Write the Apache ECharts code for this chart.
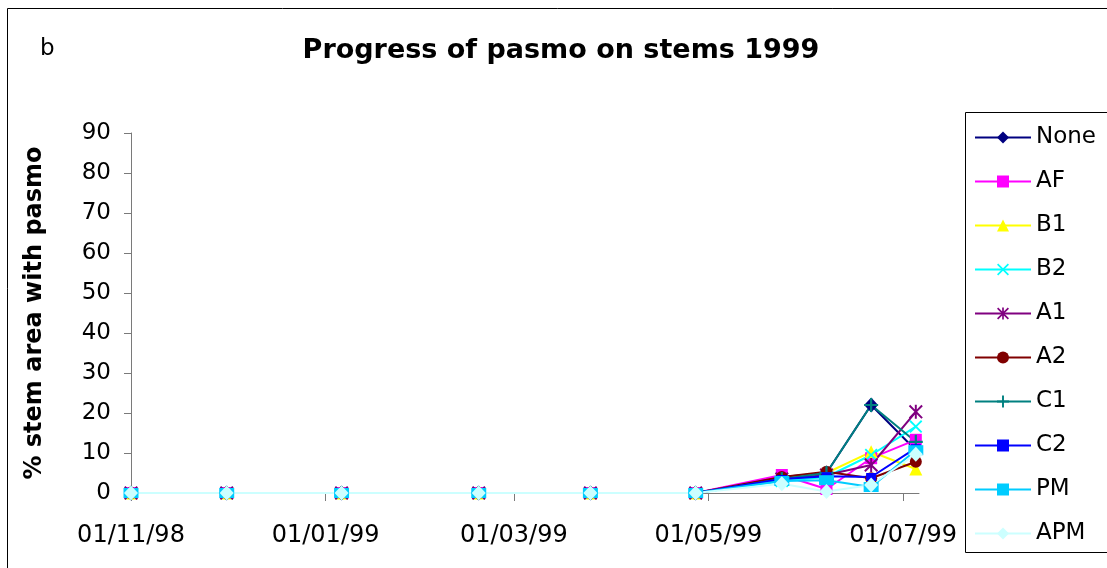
<!DOCTYPE html>
<html>
<head>
<meta charset="utf-8">
<title>Progress of pasmo on stems 1999</title>
<script src="https://cdn.jsdelivr.net/npm/echarts@6/dist/echarts.min.js"></script>
<style>
  html, body { margin: 0; padding: 0; background: #fff; }
  #chart { width: 1107px; height: 568px; }
</style>
</head>
<body>
<div id="chart"></div>
<script>
// Assessment dates and % stem area with pasmo for each treatment
const sampleDates = ['1998-11-01', '1998-12-01', '1999-01-06', '1999-02-18', '1999-03-25',
                     '1999-04-27', '1999-05-24', '1999-06-07', '1999-06-21', '1999-07-05'];
const tickDates = ['1998-11-01', '1999-01-01', '1999-03-01', '1999-05-01', '1999-07-01'];
const axisEnd = '1999-07-06';
const treatments = ['None', 'AF', 'B1', 'B2', 'A1', 'A2', 'C1', 'C2', 'PM', 'APM'];

const valNone = [0, 0, 0, 0, 0, 0, 4.0, 5.0, 22.0, 10.7];
const valAF   = [0, 0, 0, 0, 0, 0, 4.5, 1.0, 8.7, 13.3];
const valB1   = [0, 0, 0, 0, 0, 0, 3.5, 5.0, 10.3, 6.0];
const valB2   = [0, 0, 0, 0, 0, 0, 3.0, 4.0, 9.5, 16.6];
const valA1   = [0, 0, 0, 0, 0, 0, 3.5, 4.5, 7.0, 20.3];
const valA2   = [0, 0, 0, 0, 0, 0, 4.0, 5.3, 3.7, 7.8];
const valC1   = [0, 0, 0, 0, 0, 0, 3.5, 5.0, 22.0, 12.8];
const valC2   = [0, 0, 0, 0, 0, 0, 3.5, 4.2, 4.0, 11.2];
const valPM   = [0, 0, 0, 0, 0, 0, 3.0, 3.2, 1.5, 10.7];
const valAPM  = [0, 0, 0, 0, 0, 0, 2.3, 0.4, 2.0, 9.7];

const yTicks = { min: 0, max: 90, step: 10 };

// Filled marker outlines for the cross-style symbols
const SYM_X = 'path://M0,1L1,0L5,4L9,0L10,1L6,5L10,9L9,10L5,6L1,10L0,9L4,5Z';
const SYM_PLUS = 'path://M4.2,0H5.8V4.2H10V5.8H5.8V10H4.2V5.8H0V4.2H4.2Z';
const SYM_STAR = 'path://M4.3,0H5.7V10H4.3Z M0,1L1,0L5,4L9,0L10,1L6,5L10,9L9,10L5,6L1,10L0,9L4,5Z';

const seriesStyle = {
  None: { color: '#000080', symbol: 'diamond', size: [14, 15] },
  AF:   { color: '#FF00FF', symbol: 'rect', size: 12 },
  B1:   { color: '#FFFF00', symbol: 'triangle', size: 13 },
  B2:   { color: '#00FFFF', symbol: SYM_X, size: 13 },
  A1:   { color: '#800080', symbol: SYM_STAR, size: 14 },
  A2:   { color: '#800000', symbol: 'circle', size: 12 },
  C1:   { color: '#008080', symbol: SYM_PLUS, size: 14 },
  C2:   { color: '#0000FF', symbol: 'rect', size: [10, 8] },
  PM:   { color: '#00CCFF', symbol: 'rect', size: [15, 10] },
  APM:  { color: '#CCFFFF', symbol: 'diamond', size: [14, 15] }
};
const seriesValues = {
  None: valNone, AF: valAF, B1: valB1, B2: valB2, A1: valA1,
  A2: valA2, C1: valC1, C2: valC2, PM: valPM, APM: valAPM
};

function toTime(s) {
  const p = s.split('-').map(Number);
  return new Date(p[0], p[1] - 1, p[2]).getTime();
}
function pad(n) { return (n < 10 ? '0' : '') + n; }
function fmtDate(v) {
  const d = new Date(v);
  return pad(d.getDate()) + '/' + pad(d.getMonth() + 1) + '/' + String(d.getFullYear()).slice(2);
}

const FONT = 'DejaVu Sans';
const AXIS_GREY = '#7a7a7a';
const tickTimes = tickDates.map(toTime);

const series = treatments.map(name => {
  const st = seriesStyle[name];
  return {
    name: name,
    type: 'line',
    data: sampleDates.map((d, i) => [toTime(d), seriesValues[name][i]]),
    symbol: st.symbol,
    symbolSize: st.size,
    showAllSymbol: true,
    lineStyle: { color: st.color, width: 2 },
    itemStyle: { color: st.color, borderWidth: 0 },
    emphasis: { disabled: true }
  };
});

const chart = echarts.init(document.getElementById('chart'), null, { renderer: 'canvas' });
chart.setOption({
  animation: false,
  backgroundColor: '#ffffff',
  title: {
    text: 'Progress of pasmo on stems 1999',
    left: 561,
    top: 51,
    textAlign: 'center',
    textVerticalAlign: 'middle',
    padding: 0,
    textStyle: { fontFamily: FONT, fontWeight: 'bold', fontSize: 27, color: '#000' }
  },
  graphic: [
    {
      type: 'rect',
      shape: { x: 7.5, y: 8.5, width: 1200, height: 620 },
      style: { fill: 'none', stroke: '#000', lineWidth: 1 },
      silent: true
    },
    {
      type: 'rect',
      shape: { x: 965.5, y: 112.5, width: 200, height: 440 },
      style: { fill: 'none', stroke: '#000', lineWidth: 1 },
      silent: true
    },
    {
      type: 'text',
      x: 40,
      y: 49,
      style: {
        text: 'b', fontFamily: FONT, fontSize: 23, fill: '#000',
        textAlign: 'left', textVerticalAlign: 'middle'
      },
      silent: true
    }
  ],
  legend: {
    data: treatments,
    orient: 'vertical',
    left: 974,
    top: 126,
    padding: 0,
    itemWidth: 56,
    itemHeight: 15,
    itemGap: 21,
    selectedMode: false,
    textStyle: { fontFamily: FONT, fontSize: 23, lineHeight: 23, color: '#000' }
  },
  grid: { left: 131, top: 133, right: 188, bottom: 75, containLabel: false },
  xAxis: {
    type: 'value',
    min: toTime(sampleDates[0]),
    max: toTime(axisEnd),
    splitLine: { show: false },
    axisLine: { show: true, onZero: false, lineStyle: { color: AXIS_GREY, width: 1 } },
    axisTick: {
      show: true, inside: false, length: 8,
      customValues: tickTimes,
      lineStyle: { color: AXIS_GREY, width: 1 }
    },
    axisLabel: {
      customValues: tickTimes,
      formatter: fmtDate,
      margin: 31,
      fontFamily: FONT, fontSize: 24, color: '#000'
    }
  },
  yAxis: {
    type: 'value',
    min: yTicks.min,
    max: yTicks.max,
    interval: yTicks.step,
    name: '% stem area with pasmo',
    nameLocation: 'middle',
    nameRotate: 90,
    nameGap: 84,
    nameTextStyle: { fontFamily: FONT, fontWeight: 'bold', fontSize: 24, color: '#000' },
    splitLine: { show: false },
    axisLine: { show: true, lineStyle: { color: AXIS_GREY, width: 1 } },
    axisTick: { show: true, inside: false, length: 7, lineStyle: { color: AXIS_GREY, width: 1 } },
    axisLabel: { margin: 20, fontFamily: FONT, fontSize: 23, color: '#000' }
  },
  series: series
});
</script>
</body>
</html>
